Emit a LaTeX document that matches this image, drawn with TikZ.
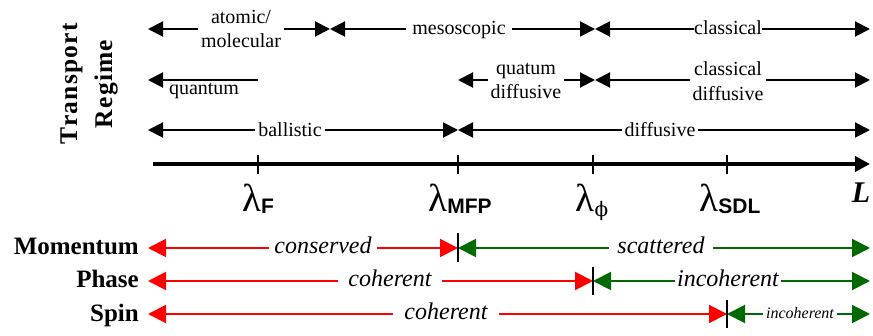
\documentclass[tikz,border=0pt]{standalone}
\usepackage{fontspec}
\setmainfont{Liberation Serif}
\newfontfamily\lsans{Liberation Sans}
\newfontfamily\dvserif{DejaVu Serif}
\usetikzlibrary{arrows.meta}
\definecolor{myred}{RGB}{255,0,0}
\definecolor{mygreen}{RGB}{0,105,0}
\tikzset{
  blkarr/.style={line width=2pt, draw=black, >={Triangle[length=15pt,width=15pt]}, <->},
  redarr/.style={line width=2pt, draw=myred, >={Triangle[length=18pt,width=18pt]}, <->},
  grnarr/.style={line width=2pt, draw=mygreen, >={Triangle[length=18pt,width=18pt]}, <->},
  axis/.style={line width=4pt, draw=black, -{Triangle[length=15pt,width=15pt]}},
  tickln/.style={line width=2pt, draw=black},
  lab/.style={font=\fontsize{20}{24.5}\selectfont, fill=white, inner ysep=1pt, inner xsep=3pt, align=center},
  ilab/.style={font=\fontsize{24}{24}\selectfont\itshape, fill=white, inner ysep=1pt, inner xsep=5pt, anchor=base},
  rowlab/.style={font=\fontsize{25}{25}\selectfont\bfseries, anchor=base east, inner sep=0pt},
  lam/.style={anchor=base, inner sep=0pt, font=\fontsize{39}{39}\selectfont},
}
\newcommand{\lsub}[1]{\raisebox{-1.5pt}{\lsans\fontsize{21}{21}\selectfont\bfseries #1}}
\newcommand{\ks}{\kern1.2pt}
\begin{document}
\begin{tikzpicture}[x=1pt,y=-1pt]
\useasboundingbox (0,0) rectangle (873,336);

% vertical title
\node[rotate=90, align=center, inner sep=0pt,
  font=\fontsize{25.5}{35}\selectfont\bfseries] (tr) at (89,84)
  {T\ks r\ks a\ks n\ks s\ks p\ks o\ks r\ks t\\R\ks e\ks g\ks i\ks m\ks e};

% row 1
\coordinate (a0) at (148,29); \coordinate (a1) at (330,29);
\coordinate (a2) at (595,29); \coordinate (a3) at (870,29);
\draw[blkarr] (a0) -- (a1);
\draw[blkarr] (a1) -- (a2);
\draw[blkarr] (a2) -- (a3);
\node[lab] (atm) at (241,29) {atomic/\\molecular};
\node[lab, anchor=base, inner xsep=6pt] (meso) at (459,35) {mesoscopic};
\node[lab, anchor=base, inner xsep=0pt] (cls) at (728,35) {classical};

% row 2
\coordinate (b0) at (148,80); \coordinate (bq) at (258,80);
\coordinate (b1) at (458,80); \coordinate (b2) at (595,80); \coordinate (b3) at (870,80);
\draw[blkarr, <-] (b0) -- (bq);
\draw[blkarr] (b1) -- (b2);
\draw[blkarr] (b2) -- (b3);
\node[lab, fill=none, anchor=base] (qu) at (204,95) {quantum};
\node[lab] (qd) at (526,81) {quatum\\diffusive};
\node[lab] (cd) at (728,81) {classical\\diffusive};

% row 3
\coordinate (c0) at (148,130); \coordinate (c1) at (458,130); \coordinate (c2) at (870,130);
\draw[blkarr] (c0) -- (c1);
\draw[blkarr] (c1) -- (c2);
\node[lab, anchor=base] (bal) at (290,137) {ballistic};
\node[lab, anchor=base] (dif) at (660,137) {diffusive};

% axis
\coordinate (ax0) at (153,164); \coordinate (ax1) at (870,164);
\coordinate (tF) at (258,164); \coordinate (tM) at (458,164);
\coordinate (tP) at (593,164); \coordinate (tS) at (727,164);
\draw[axis] (ax0) -- (ax1);
\foreach \t in {tF,tM,tP,tS}{\draw[tickln] ([yshift=9pt]\t) -- ([yshift=-10pt]\t);}
\node[lam] (lF) at (258,212) {λ\lsub{F}};
\node[lam] (lM) at (460,212) {λ\lsub{MFP}};
\node[lam] (lP) at (592,212) {λ\raisebox{-5pt}{\dvserif\fontsize{20}{20}\selectfont ϕ}};
\node[lam] (lS) at (730,212) {λ\lsub{SDL}};
\node[anchor=base, inner sep=0pt, font=\fontsize{30}{30}\selectfont\bfseries\itshape] (L) at (861,203) {L};

% Momentum
\coordinate (m0) at (148,248); \coordinate (m1) at (458,248); \coordinate (m2) at (870,248);
\draw[redarr] (m0) -- (m1);
\draw[grnarr] (m1) -- (m2);
\draw[tickln] ([yshift=15pt]m1) -- ([yshift=-14pt]m1);
\node[ilab] (cons) at (323,253.5) {conserved};
\node[ilab, inner xsep=8pt] (scat) at (661,253.5) {scattered};
\node[rowlab] (mom) at (139,255) {Momentum};

% Phase
\coordinate (p0) at (148,281); \coordinate (p1) at (593,281); \coordinate (p2) at (870,281);
\draw[redarr] (p0) -- (p1);
\draw[grnarr] (p1) -- (p2);
\draw[tickln] ([yshift=14pt]p1) -- ([yshift=-14pt]p1);
\node[ilab, inner xsep=10pt] (coh1) at (390,287) {coherent};
\node[ilab, inner xsep=2pt] (inc1) at (728,287) {incoherent};
\node[rowlab] (pha) at (139,288) {Phase};

% Spin
\coordinate (s0) at (148,314); \coordinate (s1) at (727,314); \coordinate (s2) at (870,314);
\draw[redarr] (s0) -- (s1);
\draw[grnarr] (s1) -- (s2);
\draw[tickln] ([yshift=14pt]s1) -- ([yshift=-14pt]s1);
\node[ilab, inner xsep=11pt] (coh2) at (446,320) {coherent};
\node[ilab, inner xsep=3pt, font=\fontsize{16}{16}\selectfont\itshape] (inc2) at (800,319) {incoherent};
\node[rowlab] (spin) at (139,322) {Spin};
\end{tikzpicture}
\end{document}
